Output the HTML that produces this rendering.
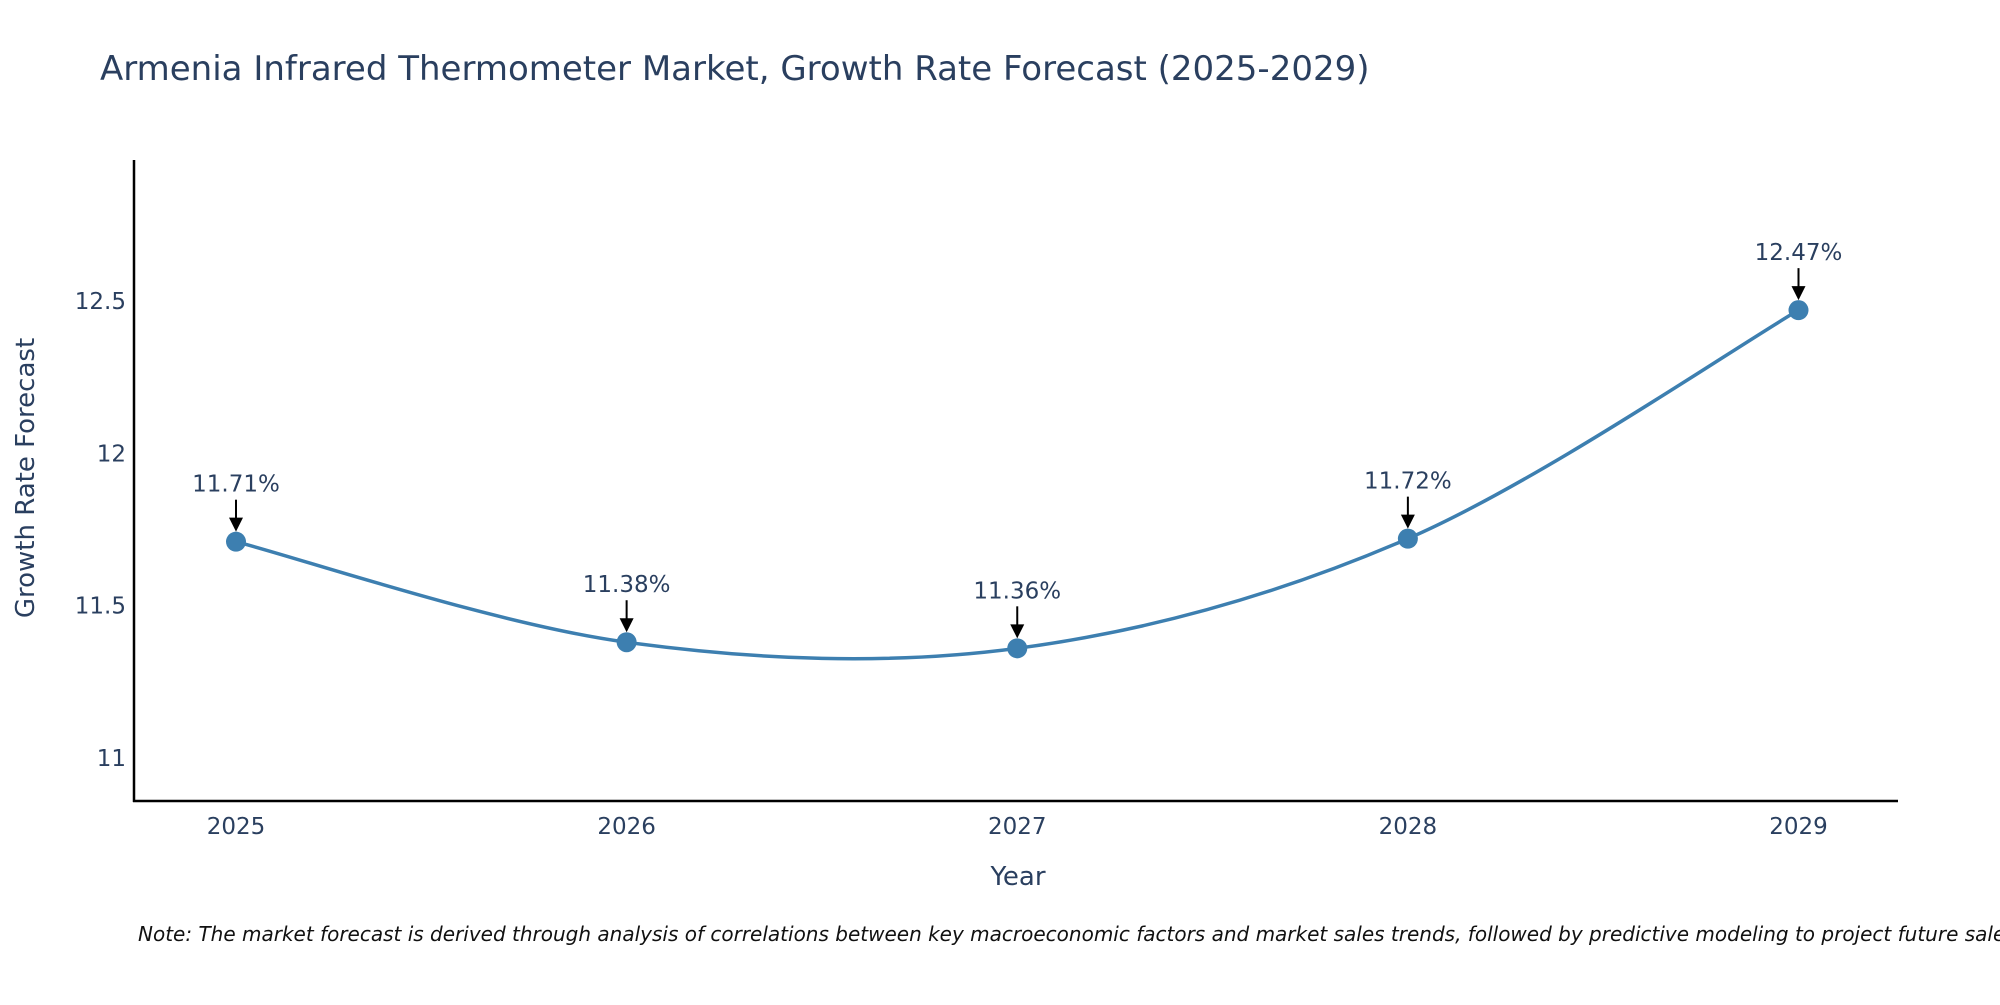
<!DOCTYPE html>
<html><head><meta charset="utf-8"><style>
body{margin:0;background:#fff;}
svg text{font-family:"DejaVu Sans","Liberation Sans",sans-serif;fill:#2a3f5f;}
</style></head><body>
<svg id="chart" width="2000" height="1000" viewBox="0 0 2000 1000">
<text x="100" y="80" font-size="34">Armenia Infrared Thermometer Market, Growth Rate Forecast (2025-2029)</text>
<g id="yticks"></g>
<g id="xticks"></g>
<line x1="134" y1="160" x2="134" y2="802" stroke="#000" stroke-width="2.5"/>
<line x1="133" y1="801" x2="1898" y2="801" stroke="#000" stroke-width="2.5"/>
<path id="line" fill="none" stroke="#3d7fb0" stroke-width="3.5"/>
<g id="points"></g>
<g id="annots"></g>
<text x="1018" y="885" font-size="26" text-anchor="middle">Year</text>
<text transform="translate(34,478) rotate(-90)" font-size="26" text-anchor="middle">Growth Rate Forecast</text>
<text x="138" y="941" font-size="20" font-style="italic" style="fill:#111">Note: The market forecast is derived through analysis of correlations between key macroeconomic factors and market sales trends, followed by predictive modeling to project future sales</text>
</svg>
<script>
const years = ["2025","2026","2027","2028","2029"];
const values = [11.71, 11.38, 11.36, 11.72, 12.47];
const labels = ["11.71%","11.38%","11.36%","11.72%","12.47%"];
const yTickValues = [11, 11.5, 12, 12.5];
const yTickLabels = ["11","11.5","12","12.5"];
const NS="http://www.w3.org/2000/svg";
function xs(i){return 236+i*(1798.5-236)/4;}
function ys(v){return 758-(v-11)*(758-301)/1.5;}
function mk(t,a,parent){const e=document.createElementNS(NS,t);for(const k in a)e.setAttribute(k,a[k]);parent.appendChild(e);return e;}
const yt=document.getElementById('yticks');
yTickValues.forEach((v,i)=>{const t=mk('text',{x:126,y:ys(v)+8,'font-size':23,'text-anchor':'end'},yt);t.textContent=yTickLabels[i];

});
const xt=document.getElementById('xticks');
years.forEach((y,i)=>{const t=mk('text',{x:xs(i),y:834,'font-size':23,'text-anchor':'middle'},xt);t.textContent=y;

});
const P=values.map((v,i)=>[xs(i),ys(v)]);
let d='M'+P[0][0]+','+P[0][1];
const s=1/6;
for(let i=0;i<P.length-1;i++){const p0=P[Math.max(0,i-1)],p1=P[i],p2=P[i+1],p3=P[Math.min(P.length-1,i+2)];
const c1=[p1[0]+(p2[0]-p0[0])*s,p1[1]+(p2[1]-p0[1])*s],c2=[p2[0]-(p3[0]-p1[0])*s,p2[1]-(p3[1]-p1[1])*s];
d+=' C'+c1+' '+c2+' '+p2;}
document.getElementById('line').setAttribute('d',d);
const pts=document.getElementById('points'),an=document.getElementById('annots');
P.forEach((p,i)=>{const c=mk('circle',{cx:p[0],cy:p[1],r:10,fill:'#3d7fb0'},pts);


const l=mk('line',{x1:p[0],y1:p[1]-42,x2:p[0],y2:p[1]-22,stroke:'#000','stroke-width':2},an);


const h=mk('polygon',{points:(p[0]-7)+','+(p[1]-24)+' '+(p[0]+7)+','+(p[1]-24)+' '+p[0]+','+(p[1]-10),fill:'#000'},an);


const t=mk('text',{x:p[0],y:p[1]-50,'font-size':23,'text-anchor':'middle'},an);t.textContent=labels[i];

});
</script>
</body></html>
